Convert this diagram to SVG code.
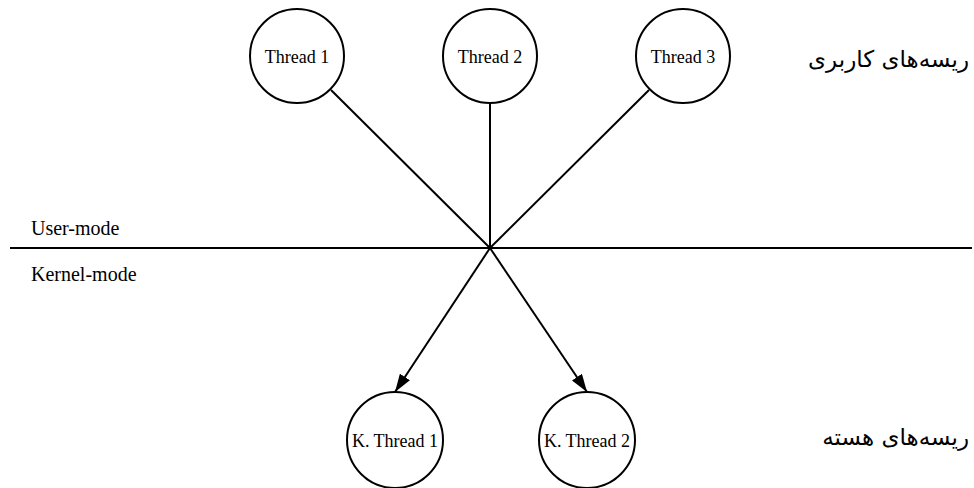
<svg xmlns="http://www.w3.org/2000/svg" width="974" height="488" viewBox="0 0 974 488">
<style>
.node circle{fill:#fff;stroke:#000;stroke-width:2}
.lbl{font-family:"Liberation Serif","Times New Roman",serif;font-size:18px;fill:#000;text-anchor:middle}
.mode{font-family:"Liberation Serif","Times New Roman",serif;font-size:20px;fill:#000}
.fa{font-family:"DejaVu Sans","Noto Sans",sans-serif;font-size:23px;fill:#000;text-anchor:end}
.edge{stroke:#000;stroke-width:2;fill:none}
</style>
<defs>
<marker id="arr" markerUnits="userSpaceOnUse" markerWidth="20" markerHeight="12" refX="18" refY="6" orient="auto">
<path d="M0,0 L18,6 L0,12 Z" fill="#000"/>
</marker>
</defs>
<g id="connectors">
<line class="edge" x1="10" y1="248" x2="972" y2="248"/>
<line class="edge" x1="331" y1="90" x2="490" y2="248"/>
<line class="edge" x1="490" y1="104" x2="490" y2="248"/>
<line class="edge" x1="649" y1="90" x2="490" y2="248"/>
<line class="edge" x1="490" y1="248" x2="395" y2="392" marker-end="url(#arr)"/>
<line class="edge" x1="490" y1="248" x2="587" y2="392" marker-end="url(#arr)"/>
</g>
<g id="thread1" class="node"><circle cx="297" cy="56" r="47"/><text class="lbl" x="297" y="63">Thread 1</text></g>
<g id="thread2" class="node"><circle cx="490" cy="56" r="47"/><text class="lbl" x="490" y="63">Thread 2</text></g>
<g id="thread3" class="node"><circle cx="683" cy="56" r="47"/><text class="lbl" x="683" y="63">Thread 3</text></g>
<g id="kthread1" class="node"><circle cx="395" cy="440" r="48"/><text class="lbl" x="395" y="447">K. Thread 1</text></g>
<g id="kthread2" class="node"><circle cx="587" cy="440" r="48"/><text class="lbl" x="587" y="447">K. Thread 2</text></g>
<text class="mode" x="31" y="235">User-mode</text>
<text class="mode" x="31" y="281">Kernel-mode</text>
<text class="fa" x="969" y="67">ریسه‌های کاربری</text>
<text class="fa" x="969" y="445">ریسه‌های هسته</text>
</svg>
